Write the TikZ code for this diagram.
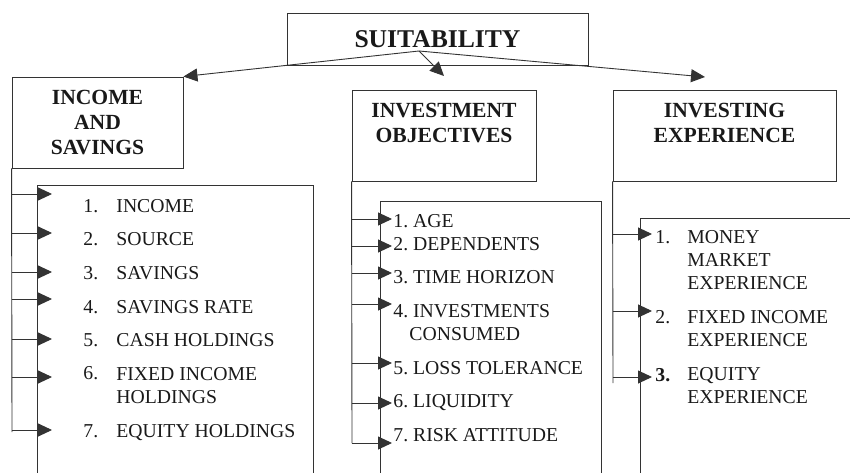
\documentclass[tikz,border=0pt]{standalone}
\usepackage{fontspec}
\setmainfont{Liberation Serif}
\usetikzlibrary{arrows.meta}

\tikzset{
  headbox/.style={draw, inner sep=0pt, align=center, font=\fontsize{21.6}{25}\selectfont\bfseries},
  item/.style={anchor=base west, inner sep=0pt, align=left, font=\fontsize{19.7}{23}\selectfont},
}

\begin{document}
\begin{tikzpicture}[x=1pt, y=-1pt, line width=0.9pt, color=black!80, text=black!90,
    >={Triangle[length=14pt,width=13pt]}]
  \useasboundingbox (0,0) rectangle (850,473);

  % top box and the three heads
  \node [headbox, minimum width=301pt, minimum height=52pt, font=\fontsize{25.6}{30}\selectfont\bfseries] (suit) at (437.5,39) {SUITABILITY};
  \node [headbox, minimum width=171pt, minimum height=91pt] (inc) at (97.5,122.5) {INCOME\\AND\\SAVINGS};
  \node [headbox, minimum width=184pt, minimum height=91pt] (obj) at (444,135.5) {INVESTMENT\\OBJECTIVES\\\mbox{}};
  \node [headbox, minimum width=223pt, minimum height=91pt] (exp) at (724.5,135.5) {INVESTING\\EXPERIENCE\\\mbox{}};

  \coordinate (apex) at (419,51);
  \coordinate (objtip) at (444,76);
  \coordinate (exptip) at (705,77);
  \draw [->] (apex) -- (inc.north east);
  \draw [->] (apex) -- (objtip);
  \draw [->] (apex) -- (exptip);

  % list frames, open at the bottom
  \draw (37,473) -- (37,185) -- (313,185) -- (313,473);
  \draw (380,473) -- (380,201) -- (601,201) -- (601,473);
  \draw (640,473) -- (640,218) -- (850,218);

  % spines
  \draw (inc.south west) -- (12,432);
  \draw (obj.south west) -- (352,443);
  \draw (exp.south west) -- (613,383);

  % income and savings (text y = baseline of the last line)
  \foreach \n/\y in {1/194,2/233,3/272,4/299,5/339,6/377,7/430} {
    \coordinate (inc\n) at (52,\y);
    \draw [->] (inc\n -| inc.west) -- (inc\n);
  }
  \foreach \n/\y/\yt/\t in {1/212/212/INCOME, 2/245/245/SOURCE, 3/279/279/SAVINGS,
      4/313/313/SAVINGS RATE, 5/346/346/CASH HOLDINGS,
      6/379/403/{FIXED INCOME\\HOLDINGS}, 7/437/437/EQUITY HOLDINGS} {
    \node [item] (incnum\n) at (83,\y) {\n.};
    \node [item] (inctxt\n) at (116,\yt) {\t};
  }

  % investment objectives
  \foreach \n/\y in {1/219,2/246,3/273,4/304,5/363,6/403,7/443} {
    \coordinate (obj\n) at (392,\y);
    \draw [->] (obj\n -| obj.west) -- (obj\n);
  }
  \foreach \n/\y/\t in {1/227/AGE, 2/250/DEPENDENTS, 3/283/TIME HORIZON,
      4/340/{INVESTMENTS\\\hspace*{16pt}CONSUMED}, 5/374/LOSS TOLERANCE,
      6/407/LIQUIDITY, 7/441/RISK ATTITUDE} {
    \node [item] (objtxt\n) at (393,\y) {\n.~\t};
  }

  % investing experience
  \foreach \n/\y in {1/234,2/311,3/377} {
    \coordinate (exp\n) at (652,\y);
    \draw [->] (exp\n -| exp.west) -- (exp\n);
  }
  \node [item] (expnum1) at (655,243) {1.};
  \node [item] (expnum2) at (655,323) {2.};
  \node [item] (expnum3) at (655,381) {\bfseries 3.};
  \node [item] (exptxt1) at (687,289) {MONEY\\MARKET\\EXPERIENCE};
  \node [item] (exptxt2) at (687,346) {FIXED INCOME\\EXPERIENCE};
  \node [item] (exptxt3) at (687,403) {EQUITY\\EXPERIENCE};
\end{tikzpicture}
\end{document}
